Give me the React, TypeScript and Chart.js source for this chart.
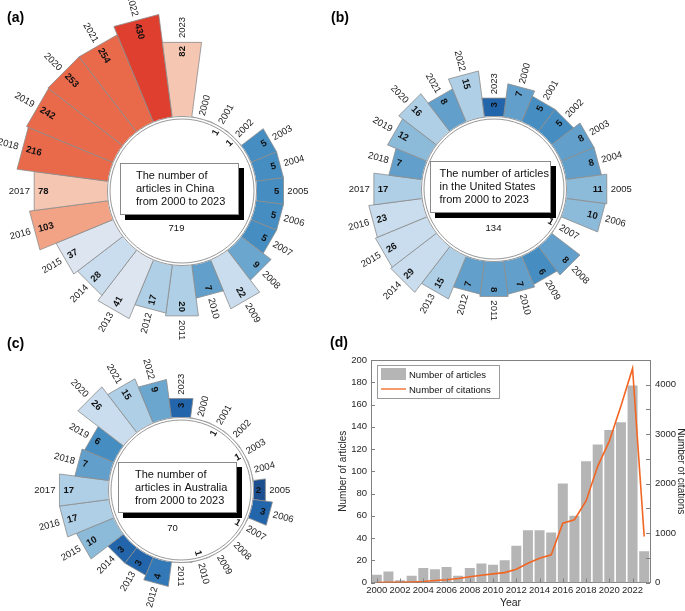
import React, { useEffect, useRef } from 'react';
import { Chart, registerables } from 'chart.js';

Chart.register(...registerables);

const FONT = '"Liberation Sans", Arial, Helvetica, sans-serif';
Chart.defaults.font.family = FONT;

// ---------------- data ----------------
const years = ['2000', '2001', '2002', '2003', '2004', '2005', '2006', '2007', '2008', '2009', '2010', '2011',
  '2012', '2013', '2014', '2015', '2016', '2017', '2018', '2019', '2020', '2021', '2022', '2023'];

const chinaArticles: (number | null)[] = [null, 1, 1, 5, 5, 5, 5, 5, 9, 22, 7, 20, 17, 41, 28, 37, 103, 78, 216, 242, 253, 254, 430, 82];
const usArticles: (number | null)[] = [7, 5, 5, 8, 8, 11, 10, 1, 8, 6, 7, 8, 7, 15, 29, 26, 23, 17, 7, 12, 16, 8, 15, 3];
const australiaArticles: (number | null)[] = [null, 1, null, 1, null, 2, 3, 1, null, null, 1, null, 4, 3, 3, 10, 17, 17, 7, 6, 26, 15, 9, 3];

const chinaTotal = '719';
const usTotal = '134';
const australiaTotal = '70';

const chinaCaption = ['The number of', 'articles in China', 'from 2000 to 2023'];
const usCaption = ['The number of articles', 'in the United States', 'from 2000 to 2023'];
const australiaCaption = ['The number of', 'articles in Australia', 'from 2000 to 2023'];

const globalArticles = [7, 10, 2, 6, 13, 12, 14, 6, 13, 17, 16, 20, 33, 47, 47, 45, 89, 60, 109, 124, 137, 144, 177, 28];
const globalCitations = [0, 2, 5, 10, 20, 40, 55, 80, 115, 145, 175, 200, 270, 390, 490, 560, 1200, 1270, 1650, 2350, 2860, 3570, 4330, 930];

const articleAxisMax = 200;
const articleStep = 20;
const citationAxisMax = 4500;
const citationStep = 500;
const citationLabelStep = 1000;

const articlesLabel = 'Number of articles';
const citationsLabel = 'Number of citations';

// colour map (value -> colour), log-spaced stops
const colorStops: [number, string][] = [
  [1, '#0d3d7a'], [2, '#1c4f90'], [3, '#2365aa'], [4, '#3379b8'], [5, '#468ec2'], [7, '#62a0cb'],
  [9, '#6aa6ce'], [10, '#8cbad9'], [15, '#aecfe6'], [22, '#c9ddee'], [35, '#dde5f0'], [60, '#f5c6b1'],
  [100, '#f3a385'], [200, '#e9694b'], [400, '#de3f2f'],
];
function barColor(v: number): string {
  let c = colorStops[0][1];
  for (const [t, col] of colorStops) if (v >= t) c = col;
  return c;
}

// ---------------- radial panel ----------------
type RadialProps = {
  left: number; top: number; width: number; height: number;
  cx: number; cy: number; r0: number; k: number;
  values: (number | null)[];
  total: string; caption: string[];
  box: { dx: number; dy: number; w: number; h: number; textDx: number };
  totalAt: { dx: number; dy: number };
};

function RadialChart(p: RadialProps) {
  const ref = useRef<HTMLCanvasElement>(null);
  useEffect(() => {
    const canvas = ref.current!;
    const lx = p.cx - p.left;
    const ly = p.cy - p.top;
    const pad = {
      left: Math.max(0, 2 * lx - p.width),
      right: Math.max(0, p.width - 2 * lx),
      top: Math.max(0, 2 * ly - p.height),
      bottom: Math.max(0, p.height - 2 * ly),
    };
    const decor = {
      id: 'radialDecor',
      afterDatasetsDraw(chart: any) {
        const ctx: CanvasRenderingContext2D = chart.ctx;
        const s: any = chart.scales.r;
        const x0 = s.xCenter, y0 = s.yCenter;
        const rin = s.getDistanceFromCenterForValue(0);
        ctx.save();
        ctx.beginPath();
        ctx.arc(x0, y0, rin, 0, Math.PI * 2);
        ctx.fillStyle = '#ffffff';
        ctx.fill();
        ctx.lineWidth = 0.9;
        ctx.strokeStyle = '#8c8c8c';
        ctx.beginPath(); ctx.arc(x0, y0, rin - 0.5, 0, Math.PI * 2); ctx.stroke();
        ctx.beginPath(); ctx.arc(x0, y0, rin - 3, 0, Math.PI * 2); ctx.stroke();

        // centre box with shadow
        const { dx, dy, w, h, textDx } = p.box;
        const bx = Math.round(x0 + dx), by = Math.round(y0 + dy);
        ctx.fillStyle = '#000000';
        ctx.fillRect(bx + 5, by + 5, w, h);
        ctx.fillStyle = '#ffffff';
        ctx.fillRect(bx, by, w, h);
        ctx.strokeStyle = '#8a8a8a';
        ctx.lineWidth = 1;
        ctx.strokeRect(bx + 0.5, by + 0.5, w - 1, h - 1);
        ctx.fillStyle = '#111111';
        ctx.font = `11px ${FONT}`;
        ctx.textAlign = 'left';
        ctx.textBaseline = 'middle';
        p.caption.forEach((line, i) => ctx.fillText(line, bx + textDx, by + h / 2 + (i - 1) * 13));
        ctx.font = `9.5px ${FONT}`;
        ctx.textAlign = 'center';
        ctx.fillText(p.total, x0 + p.totalAt.dx, y0 + p.totalAt.dy);

        // labels
        const meta = chart.getDatasetMeta(0);
        meta.data.forEach((arc: any, i: number) => {
          const raw = p.values[i];
          const { startAngle, endAngle, outerRadius } = arc.getProps(['startAngle', 'endAngle', 'outerRadius'], true);
          const a = (startAngle + endAngle) / 2;
          let th = ((a + Math.PI / 2) * 180) / Math.PI;
          th = ((th % 360) + 360) % 360;
          const leftSide = th > 180.5 && th < 359.5;
          const rot = leftSide ? a - Math.PI : a;
          const rOut = raw == null ? rin : outerRadius;
          // year label
          ctx.save();
          ctx.translate(x0 + Math.cos(a) * (rOut + 3), y0 + Math.sin(a) * (rOut + 3));
          ctx.rotate(rot);
          ctx.textAlign = leftSide ? 'right' : 'left';
          ctx.textBaseline = 'middle';
          ctx.font = `9.5px ${FONT}`;
          ctx.fillStyle = '#222222';
          ctx.fillText(years[i], 0, 0);
          ctx.restore();
          if (raw != null) {
            ctx.font = `bold 9.5px ${FONT}`;
            const tw = ctx.measureText(String(raw)).width;
            const rl = rOut - tw / 2 - 5;
            ctx.save();
            ctx.translate(x0 + Math.cos(a) * rl, y0 + Math.sin(a) * rl);
            ctx.rotate(rot);
            ctx.textAlign = 'center';
            ctx.textBaseline = 'middle';
            ctx.fillStyle = '#111111';
            ctx.fillText(String(raw), 0, 0);
            ctx.restore();
          }
        });
        ctx.restore();
      },
    };
    const chart = new Chart(canvas, {
      type: 'polarArea',
      data: {
        labels: years,
        datasets: [{
          data: p.values.map((v) => (v == null ? 0 : Math.log(v))),
          backgroundColor: p.values.map((v) => (v == null ? 'rgba(0,0,0,0)' : barColor(v))),
          borderColor: '#8c8c8c',
          borderWidth: 0.8,
          circular: false,
          clip: false,
        } as any],
      },
      options: {
        animation: false,
        responsive: false,
        layout: { padding: pad },
        elements: { arc: { circular: false } },
        plugins: { legend: { display: false }, tooltip: { enabled: false } },
        scales: {
          r: {
            startAngle: 7.5,
            min: 0,
            max: 10,
            ticks: { display: false },
            grid: { display: false },
            angleLines: { display: false },
            pointLabels: { display: false },
            afterFit: (s: any) => {
              s.min = -p.r0 / p.k;
              s.max = s.min + s.drawingArea / p.k;
            },
          } as any,
        },
      } as any,
      plugins: [decor],
    });
    return () => chart.destroy();
  }, []);
  return (
    <canvas
      ref={ref}
      width={p.width}
      height={p.height}
      style={{ position: 'absolute', left: p.left, top: p.top, width: p.width, height: p.height }}
    />
  );
}

// ---------------- panel (d) ----------------
function TrendChart() {
  const ref = useRef<HTMLCanvasElement>(null);
  const L = 335, T = 330, W = 355, H = 281;
  useEffect(() => {
    const canvas = ref.current!;
    const tickColor = '#262626';
    const axisColor = '#808080';
    const decor = {
      id: 'trendDecor',
      afterDraw(chart: any) {
        const ctx: CanvasRenderingContext2D = chart.ctx;
        const ca = chart.chartArea;
        const sx = chart.scales.x, sy = chart.scales.y, sy1 = chart.scales.y1;
        ctx.save();
        ctx.strokeStyle = axisColor;
        ctx.lineWidth = 1;
        ctx.beginPath();
        ctx.moveTo(ca.left, Math.round(ca.top) + 0.5);
        ctx.lineTo(ca.right, Math.round(ca.top) + 0.5);
        sy.ticks.forEach((t: any) => {
          const y = Math.round(sy.getPixelForValue(t.value)) + 0.5;
          ctx.moveTo(ca.left, y); ctx.lineTo(ca.left + 4, y);
        });
        sy1.ticks.forEach((t: any) => {
          const y = Math.round(sy1.getPixelForValue(t.value)) + 0.5;
          ctx.moveTo(ca.right - 4, y); ctx.lineTo(ca.right, y);
        });
        sx.ticks.forEach((_t: any, i: number) => {
          if (i % 2) return;
          const x = Math.round(sx.getPixelForValue(i)) + 0.5;
          ctx.moveTo(x, ca.bottom); ctx.lineTo(x, ca.bottom - 4);
        });
        ctx.stroke();

        // legend box
        const lx = ca.left + 6, ly = ca.top + 5, lw = 122, lh = 33;
        ctx.fillStyle = '#ffffff';
        ctx.fillRect(lx, ly, lw, lh);
        ctx.strokeStyle = '#9a9a9a';
        ctx.strokeRect(Math.round(lx) + 0.5, Math.round(ly) + 0.5, lw, lh);
        const ds = chart.data.datasets;
        const barDs = ds[1], lineDs = ds[0];
        ctx.fillStyle = barDs.backgroundColor;
        ctx.fillRect(lx + 4, ly + 3, 25, 12);
        ctx.strokeStyle = lineDs.borderColor;
        ctx.lineWidth = 1.3;
        ctx.beginPath();
        ctx.moveTo(lx + 4, ly + 24); ctx.lineTo(lx + 29, ly + 24);
        ctx.stroke();
        ctx.fillStyle = '#111111';
        ctx.font = `9.5px ${FONT}`;
        ctx.textAlign = 'left';
        ctx.textBaseline = 'middle';
        ctx.fillText(barDs.label, lx + 32, ly + 10);
        ctx.fillText(lineDs.label, lx + 32, ly + 25);
        ctx.restore();
      },
    };
    const chart = new Chart(canvas, {
      type: 'bar',
      data: {
        labels: years,
        datasets: [
          {
            type: 'line',
            label: citationsLabel,
            data: globalCitations,
            yAxisID: 'y1',
            borderColor: '#f26522',
            borderWidth: 1.6,
            pointRadius: 0,
            tension: 0,
            order: 0,
          } as any,
          {
            type: 'bar',
            label: articlesLabel,
            data: globalArticles,
            yAxisID: 'y',
            backgroundColor: '#b5b5b5',
            categoryPercentage: 0.86,
            barPercentage: 1,
            order: 1,
          } as any,
        ],
      },
      options: {
        animation: false,
        responsive: false,
        layout: { padding: { top: 30, left: 0, right: 0, bottom: 0 } },
        plugins: { legend: { display: false }, tooltip: { enabled: false } },
        scales: {
          x: {
            grid: { display: false, drawTicks: false },
            border: { color: axisColor },
            ticks: {
              autoSkip: false, maxRotation: 0, minRotation: 0, padding: 2,
              color: tickColor, font: { size: 9.5 },
              callback: (_v: any, i: number) => (i % 2 === 0 ? years[i] : ''),
            },
            title: { display: true, text: 'Year', color: tickColor, font: { size: 10.5 }, padding: { top: 0, bottom: 2 } },
            afterFit: (s: any) => { s.height = 28.5; },
          },
          y: {
            position: 'left',
            min: 0, max: articleAxisMax,
            grid: { display: false, drawTicks: false },
            border: { color: axisColor },
            ticks: { stepSize: articleStep, padding: 4, color: tickColor, font: { size: 9.5 } },
            title: { display: true, text: articlesLabel, color: tickColor, font: { size: 10 }, padding: { top: 2, bottom: 0 } },
            afterFit: (s: any) => { s.width = 36; },
          },
          y1: {
            position: 'right',
            min: 0, max: citationAxisMax,
            grid: { display: false, drawTicks: false },
            border: { color: axisColor },
            ticks: {
              stepSize: citationStep, padding: 5, color: tickColor, font: { size: 9.5 },
              callback: (v: any) => (Number(v) % citationLabelStep === 0 ? String(v) : ''),
            },
            title: { display: true, text: citationsLabel, color: tickColor, font: { size: 10 }, padding: { top: 3, bottom: 0 } },
            afterFit: (s: any) => { s.width = 40; },
          },
        },
      } as any,
      plugins: [decor],
    });
    return () => chart.destroy();
  }, []);
  return (
    <canvas ref={ref} width={W} height={H} style={{ position: 'absolute', left: L, top: T, width: W, height: H }} />
  );
}

const letterStyle = (left: number, top: number): React.CSSProperties => ({
  position: 'absolute', left, top, font: `bold 14px ${FONT}`, lineHeight: '14px', color: '#000',
});

export default function App() {
  return (
    <div style={{ position: 'fixed', left: 0, top: 0, width: 685, height: 611, overflow: 'hidden', background: '#fff' }}>
      <RadialChart
        left={0} top={0} width={340} height={340}
        cx={182.5} cy={191} r0={75} k={17}
        values={chinaArticles} total={chinaTotal} caption={chinaCaption}
        box={{ dx: -62, dy: -28, w: 119, h: 52, textDx: 16 }}
        totalAt={{ dx: -5.5, dy: 37 }}
      />
      <RadialChart
        left={340} top={0} width={345} height={335}
        cx={494.5} cy={189} r0={73} k={17}
        values={usArticles} total={usTotal} caption={usCaption}
        box={{ dx: -64, dy: -28, w: 121, h: 52, textDx: 9.5 }}
        totalAt={{ dx: -0.5, dy: 39 }}
      />
      <RadialChart
        left={0} top={320} width={340} height={291}
        cx={181.5} cy={490} r0={73} k={17.5}
        values={australiaArticles} total={australiaTotal} caption={australiaCaption}
        box={{ dx: -63.5, dy: -28, w: 119, h: 51, textDx: 17 }}
        totalAt={{ dx: -8.5, dy: 38 }}
      />
      <TrendChart />
      <div style={letterStyle(7, 10)}>(a)</div>
      <div style={letterStyle(331, 10)}>(b)</div>
      <div style={letterStyle(7, 336)}>(c)</div>
      <div style={letterStyle(330, 335)}>(d)</div>
    </div>
  );
}
